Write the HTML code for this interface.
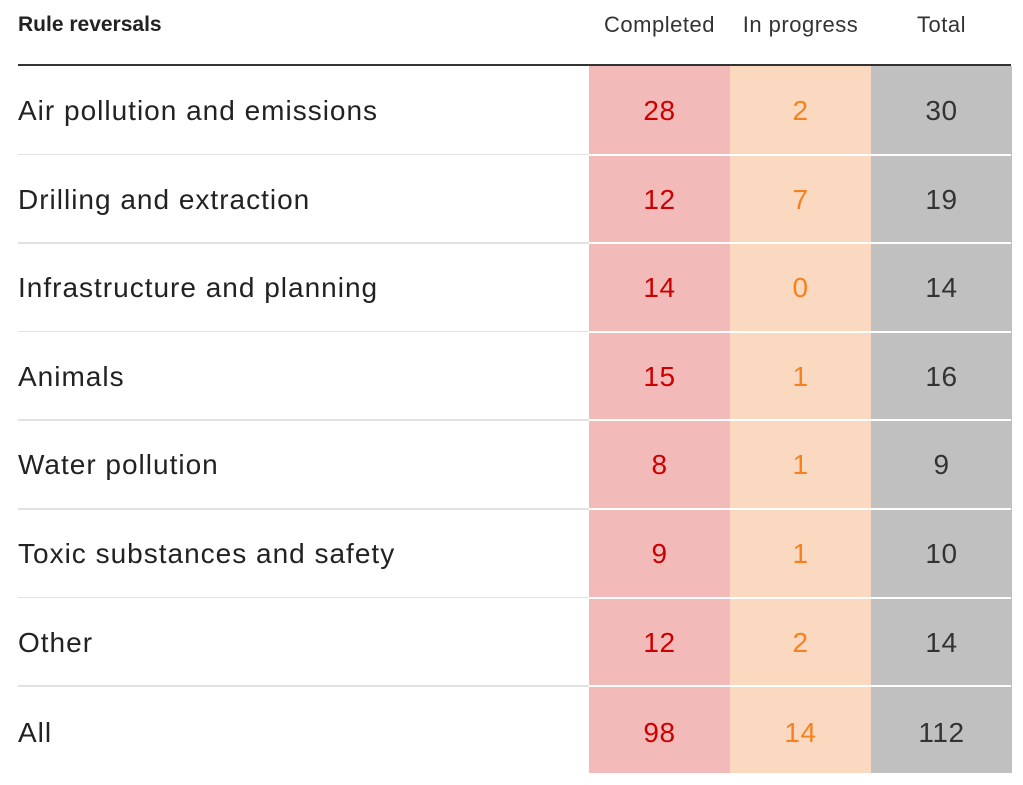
<!DOCTYPE html>
<html><head><style>
body{margin:0;width:1023px;height:785px;background:#fff;font-family:"Liberation Sans",sans-serif;position:relative;overflow:hidden}
div{position:absolute}
.h{top:12px;font-size:22px;letter-spacing:0.5px;color:#333;text-align:center;width:141px}
.col{top:66px;height:707px;width:141px}
.sep{left:18px;width:993px;height:1.5px;background:#e2e2e2}
.sepw{left:589px;width:422px;height:2px;background:#fff}
.lab{left:18px;font-size:28px;letter-spacing:1px;color:#222;height:88px;line-height:90px}
.n{width:141px;text-align:center;font-size:28px;letter-spacing:0.5px;height:88px;line-height:90px}
</style></head><body>
<div style="left:18px;top:13px;font-size:21px;font-weight:bold;color:#222">Rule reversals</div>
<div class="h" style="left:589px">Completed</div>
<div class="h" style="left:730px">In progress</div>
<div class="h" style="left:871px">Total</div>
<div style="left:18px;top:64px;width:993px;height:2px;background:#333"></div>
<div class="col" style="left:589px;background:#f2bbb9"></div>
<div class="col" style="left:730px;background:#fbd9c0"></div>
<div class="col" style="left:871px;background:#c0c0c0"></div>
<div id="rows"></div>
<script>
var d=[["Air pollution and emissions",28,2,30],["Drilling and extraction",12,7,19],["Infrastructure and planning",14,0,14],["Animals",15,1,16],["Water pollution",8,1,9],["Toxic substances and safety",9,1,10],["Other",12,2,14],["All",98,14,112]];
var h="";
for(var i=0;i<8;i++){var t=66+i*88.6;
if(i>0){h+='<div class="sep" style="top:'+(t-1)+'px"></div><div class="sepw" style="top:'+(t-1)+'px"></div>';}
var y=t+(i==7?2:0);
h+='<div class="lab" style="top:'+y+'px">'+d[i][0]+'</div>';
h+='<div class="n" style="left:589px;top:'+y+'px;color:#cc0000">'+d[i][1]+'</div>';
h+='<div class="n" style="left:730px;top:'+y+'px;color:#f5821f">'+d[i][2]+'</div>';
h+='<div class="n" style="left:871px;top:'+y+'px;color:#333">'+d[i][3]+'</div>';}
document.getElementById("rows").outerHTML=h;
</script>
</body></html>
